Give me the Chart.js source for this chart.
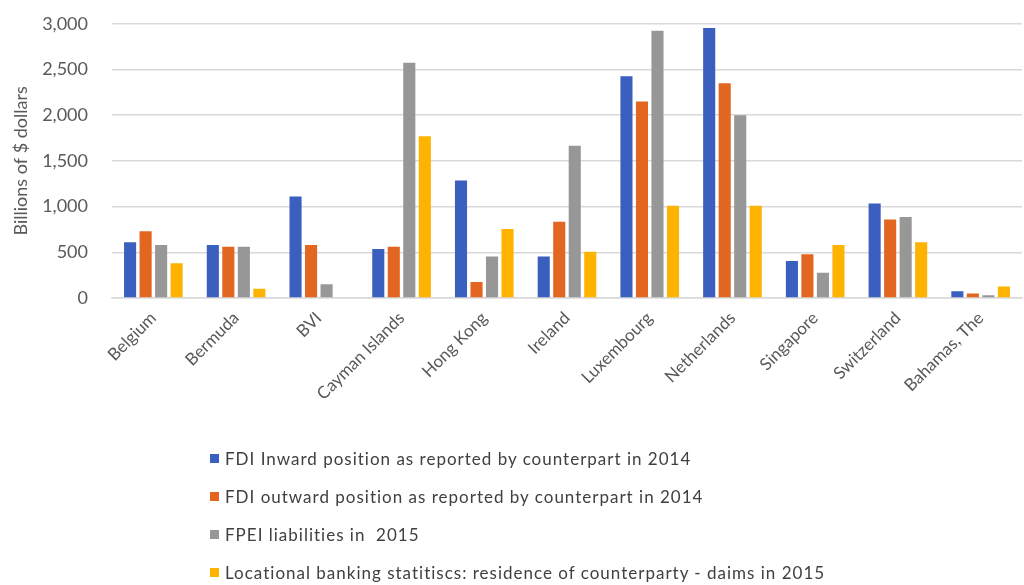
<!DOCTYPE html>
<html>
<head>
<meta charset="utf-8">
<script src="https://cdn.jsdelivr.net/npm/chart.js@4"></script>
<style>
  body { margin: 0; background: #fff; width: 1024px; height: 585px; overflow: hidden; position: relative; font-family: Lato, "Noto Sans", sans-serif; }
  #wrap { position: absolute; left: 0; top: -11px; width: 1024px; height: 451px; }
  #legend { position: absolute; left: 210px; top: 439px; }
  .item { display: flex; align-items: center; height: 38px; font-size: 17px; letter-spacing: 1px; color: #404040; white-space: pre; }
  .box { width: 9px; height: 9px; margin-right: 6px; }
</style>
</head>
<body>
<div id="wrap"><canvas id="chart"></canvas></div>
<div id="legend"></div>
<script>
  const countries = ['Belgium', 'Bermuda', 'BVI', 'Cayman Islands', 'Hong Kong', 'Ireland', 'Luxembourg', 'Netherlands', 'Singapore', 'Switzerland', 'Bahamas, The'];

  const fdiInward = [610, 580, 1110, 535, 1285, 455, 2425, 2955, 405, 1035, 75];
  const fdiOutward = [730, 560, 580, 560, 175, 835, 2150, 2350, 480, 860, 50];
  const fpeiLiabilities = [580, 560, 150, 2575, 455, 1665, 2925, 2000, 275, 885, 30];
  const bankingClaims = [380, 100, 0, 1770, 755, 505, 1010, 1010, 580, 610, 125];

  const seriesNames = [
    'FDI Inward position as reported by counterpart in 2014',
    'FDI outward position as reported by counterpart in 2014',
    'FPEI liabilities in  2015',
    'Locational banking statitiscs: residence of counterparty - daims in 2015'
  ];
  const colors = ['#3a5fbf', '#e2661f', '#979797', '#fdb300'];

  const values = [fdiInward, fdiOutward, fpeiLiabilities, bankingClaims];
  const datasets = values.map((data, i) => ({
    label: seriesNames[i],
    data,
    backgroundColor: colors[i],
    categoryPercentage: 0.75,
    barPercentage: 0.78
  }));

  const tickColor = '#595959';

  new Chart(document.getElementById('chart'), {
    type: 'bar',
    data: { labels: countries, datasets },
    options: {
      responsive: true,
      maintainAspectRatio: false,
      animation: false,
      layout: { padding: { top: 2, left: 6, right: 2 } },
      plugins: {
        legend: { display: false },
        tooltip: { enabled: false }
      },
      scales: {
        x: {
          grid: { display: false },
          border: { color: '#d9d9d9', width: 1.5 },
          ticks: {
            color: tickColor,
            font: { family: 'Lato', size: 17 },
            minRotation: 45,
            maxRotation: 45,
            padding: 2
          },
          afterFit: axis => { axis.height = 142; }
        },
        y: {
          min: 0,
          max: 3000,
          ticks: {
            stepSize: 500,
            color: tickColor,
            font: { family: 'Lato', size: 18 },
            padding: 24
          },
          grid: { color: '#d9d9d9', lineWidth: 1.5, drawTicks: false },
          border: { display: false },
          title: {
            display: true,
            text: 'Billions of $ dollars',
            color: tickColor,
            font: { family: 'Lato', size: 18 },
            padding: { top: 4, bottom: 0 }
          },
          afterFit: axis => { axis.width = 106; }
        }
      }
    }
  });

  const legend = document.getElementById('legend');
  seriesNames.forEach((name, i) => {
    const row = document.createElement('div');
    row.className = 'item';
    row.innerHTML = `<span class="box" style="background:${colors[i]}"></span><span>${name}</span>`;
    legend.appendChild(row);
  });
</script>
</body>
</html>
